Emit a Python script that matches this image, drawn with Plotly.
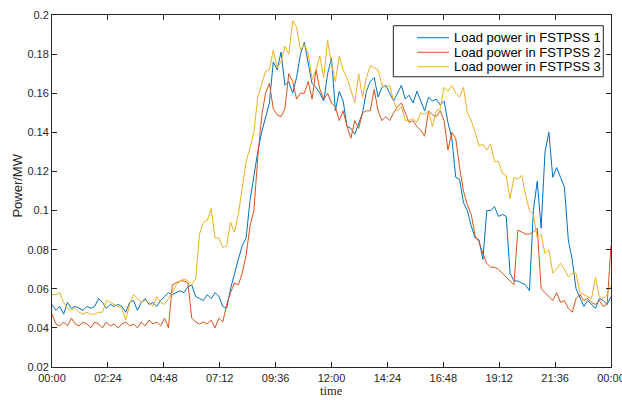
import pandas as pd
import plotly.graph_objects as go

# 10-minute samples from 00:00 to 24:00 (145 points)
time_index = pd.date_range("2020-01-01 00:00", "2020-01-02 00:00", freq="10min")

fstpss1 = [
    0.052, 0.049, 0.051, 0.047, 0.053, 0.050,
    0.051, 0.050, 0.049, 0.051, 0.050, 0.051,
    0.055, 0.053, 0.050, 0.052, 0.051, 0.052,
    0.051, 0.048, 0.053, 0.054, 0.049, 0.053,
    0.055, 0.052, 0.053, 0.051, 0.054, 0.056,
    0.058, 0.057, 0.058, 0.059, 0.058, 0.061,
    0.062, 0.056, 0.055, 0.054, 0.057, 0.055,
    0.058, 0.056, 0.051, 0.050, 0.060, 0.068,
    0.075, 0.082, 0.086, 0.105, 0.118, 0.130,
    0.140, 0.148, 0.155, 0.176, 0.172, 0.181,
    0.164, 0.166, 0.160, 0.168, 0.180, 0.186,
    0.175, 0.165, 0.163, 0.160, 0.156, 0.170,
    0.178, 0.151, 0.161, 0.156, 0.143, 0.142,
    0.139, 0.145, 0.150, 0.161, 0.166, 0.168,
    0.158, 0.163, 0.164, 0.160, 0.156, 0.160,
    0.164, 0.157, 0.159, 0.155, 0.161, 0.156,
    0.151, 0.158, 0.156, 0.157, 0.154, 0.156,
    0.145, 0.137, 0.117, 0.116, 0.104, 0.100,
    0.092, 0.086, 0.085, 0.075, 0.100, 0.100,
    0.102, 0.097, 0.098, 0.097, 0.068, 0.064,
    0.064, 0.063, 0.062, 0.059, 0.100, 0.115,
    0.091, 0.130, 0.140, 0.117, 0.122, 0.117,
    0.112, 0.085, 0.075, 0.060, 0.055, 0.051,
    0.054, 0.052, 0.050, 0.055, 0.054, 0.052,
    0.056,
]

fstpss2 = [
    0.047, 0.042, 0.041, 0.043, 0.041, 0.045,
    0.042, 0.041, 0.043, 0.042, 0.040, 0.043,
    0.042, 0.040, 0.043, 0.041, 0.042, 0.040,
    0.042, 0.043, 0.041, 0.042, 0.040, 0.043,
    0.041, 0.044, 0.042, 0.043, 0.041, 0.045,
    0.040, 0.062, 0.063, 0.064, 0.064, 0.063,
    0.045, 0.043, 0.042, 0.043, 0.042, 0.044,
    0.040, 0.045, 0.043, 0.052, 0.058, 0.063,
    0.062, 0.068, 0.077, 0.092, 0.100, 0.127,
    0.148, 0.160, 0.165, 0.152, 0.149, 0.148,
    0.152, 0.170, 0.166, 0.157, 0.160, 0.160,
    0.166, 0.157, 0.172, 0.162, 0.157, 0.160,
    0.155, 0.153, 0.146, 0.151, 0.143, 0.137,
    0.146, 0.142, 0.150, 0.151, 0.151, 0.162,
    0.151, 0.146, 0.148, 0.146, 0.150, 0.153,
    0.155, 0.150, 0.145, 0.146, 0.143, 0.141,
    0.138, 0.151, 0.149, 0.148, 0.151, 0.146,
    0.131, 0.140, 0.137, 0.122, 0.110, 0.103,
    0.098, 0.087, 0.084, 0.078, 0.073, 0.071,
    0.071, 0.070, 0.068, 0.066, 0.064, 0.062,
    0.090, 0.089, 0.088, 0.088, 0.089, 0.091,
    0.060, 0.058, 0.056, 0.054, 0.058, 0.053,
    0.054, 0.050, 0.048, 0.055, 0.057, 0.054,
    0.055, 0.053, 0.052, 0.054, 0.051, 0.052,
    0.082,
]

fstpss3 = [
    0.057, 0.057, 0.058, 0.053, 0.050, 0.049,
    0.050, 0.048, 0.047, 0.048, 0.047, 0.047,
    0.048, 0.048, 0.054, 0.053, 0.052, 0.051,
    0.050, 0.044, 0.052, 0.057, 0.055, 0.053,
    0.054, 0.053, 0.051, 0.056, 0.053, 0.052,
    0.055, 0.058, 0.062, 0.064, 0.065, 0.064,
    0.062, 0.065, 0.088, 0.094, 0.095, 0.101,
    0.086, 0.086, 0.081, 0.082, 0.094, 0.089,
    0.098, 0.112, 0.125, 0.132, 0.140, 0.158,
    0.165, 0.171, 0.172, 0.182, 0.173, 0.176,
    0.184, 0.180, 0.197, 0.194, 0.182, 0.185,
    0.180, 0.167, 0.172, 0.179, 0.168, 0.187,
    0.175, 0.166, 0.179, 0.172, 0.168, 0.161,
    0.155, 0.170, 0.158, 0.168, 0.174, 0.173,
    0.172, 0.164, 0.163, 0.164, 0.156, 0.151,
    0.153, 0.146, 0.146, 0.147, 0.145, 0.150,
    0.149, 0.151, 0.143, 0.151, 0.152, 0.163,
    0.161, 0.164, 0.160, 0.158, 0.163, 0.150,
    0.146, 0.140, 0.133, 0.134, 0.131, 0.134,
    0.125, 0.125, 0.119, 0.118, 0.106, 0.117,
    0.116, 0.118, 0.108, 0.100, 0.098, 0.086,
    0.088, 0.078, 0.080, 0.068, 0.070, 0.073,
    0.070, 0.066, 0.068, 0.068, 0.058, 0.057,
    0.056, 0.055, 0.066, 0.056, 0.055, 0.057,
    0.062,
]

series_names = ["Load power in FSTPSS 1", "Load power in FSTPSS 2", "Load power in FSTPSS 3"]
series_colors = ["#0072BD", "#D95319", "#EDB120"]

y_tick_vals = [0.02, 0.04, 0.06, 0.08, 0.1, 0.12, 0.14, 0.16, 0.18, 0.2]
y_tick_text = ["0.02", "0.04", "0.06", "0.08", "0.1", "0.12", "0.14", "0.16", "0.18", "0.2"]
x_tick_text = ["00:00", "02:24", "04:48", "07:12", "09:36", "12:00", "14:24", "16:48", "19:12", "21:36", "00:00"]
x_tick_vals = pd.date_range("2020-01-01 00:00", "2020-01-02 00:00", freq="144min")

fig = go.Figure()
for name, vals, col in zip(series_names, [fstpss1, fstpss2, fstpss3], series_colors):
    fig.add_trace(go.Scatter(x=time_index, y=vals, mode="lines", name=name,
                             line=dict(color=col, width=1), showlegend=False))

# Compact MATLAB-style legend box (paper coordinates)
leg_x0, leg_x1, leg_y0, leg_y1 = 0.6106, 0.9862, 0.8246, 0.9696
leg_line_x0, leg_line_x1, leg_text_x = 0.6529, 0.7102, 0.7161
leg_rows = [0.9355, 0.8940, 0.8530]

shapes = [dict(type="rect", xref="paper", yref="paper", x0=leg_x0, x1=leg_x1, y0=leg_y0, y1=leg_y1,
               fillcolor="white", line=dict(color="#262626", width=1), layer="above")]
annotations = []
for name, col, ry in zip(series_names, series_colors, leg_rows):
    shapes.append(dict(type="line", xref="paper", yref="paper", x0=leg_line_x0, x1=leg_line_x1,
                       y0=ry, y1=ry, line=dict(color=col, width=1), layer="above"))
    annotations.append(dict(text=name, xref="paper", yref="paper", x=leg_text_x, y=ry,
                            xanchor="left", yanchor="middle", showarrow=False,
                            font=dict(family="Liberation Sans, Arial, sans-serif", size=13, color="black")))

annotations += [
    dict(text="time", xref="paper", yref="paper", x=0.5, y=-0.0947, xanchor="center", yanchor="bottom",
         showarrow=False, font=dict(family="Liberation Serif, Times New Roman, serif", size=12.5, color="#262626")),
    dict(text="Power/MW", xref="paper", yref="paper", x=-0.061, y=0.515, xanchor="center", yanchor="middle",
         textangle=-90, showarrow=False,
         font=dict(family="Liberation Sans, Arial, sans-serif", size=13, color="#262626")),
]

axis_font = dict(family="Liberation Sans, Arial, sans-serif", size=11, color="#262626")
fig.update_layout(
    width=622, height=400,
    margin=dict(l=52, r=11, t=15, b=33, pad=0, autoexpand=False),
    paper_bgcolor="white", plot_bgcolor="white",
    showlegend=False,
    xaxis=dict(range=[time_index[0], time_index[-1]], tickvals=x_tick_vals, ticktext=x_tick_text,
               ticks="inside", ticklen=5, tickcolor="#262626", tickwidth=1,
               showline=True, linecolor="#262626", linewidth=1, mirror="allticks",
               showgrid=False, zeroline=False, tickfont=axis_font, automargin=False,
               ticklabeloverflow="allow", ticklabelstandoff=1),
    yaxis=dict(range=[0.02, 0.2], tickvals=y_tick_vals, ticktext=y_tick_text,
               ticks="inside", ticklen=5, tickcolor="#262626", tickwidth=1,
               showline=True, linecolor="#262626", linewidth=1, mirror="allticks",
               showgrid=False, zeroline=False, tickfont=axis_font, automargin=False),
    shapes=shapes,
    annotations=annotations,
)

fig.write_html("out.html")
